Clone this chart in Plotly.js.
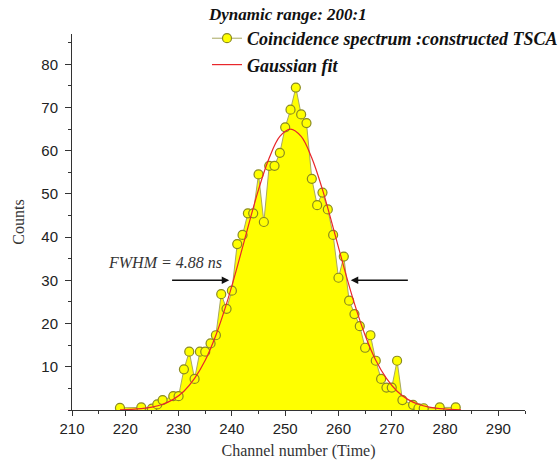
<!DOCTYPE html>
<html>
<head>
<meta charset="utf-8">
<script src="https://cdn.plot.ly/plotly-3.0.1.min.js"></script>
<style>html,body{margin:0;padding:0;background:#fff;}#chart{width:558px;height:468px;}</style>
</head>
<body>
<div id="chart"></div>
<script>
// Measured spectrum (channel, counts)
const channels = [219,223,225,226,227,229,230,231,232,233,234,235,236,237,238,239,240,241,242,243,244,245,246,247,248,249,250,251,252,253,254,255,256,257,258,259,260,261,262,263,264,265,266,267,268,269,270,271,272,274,275,276,279,282];
const counts = [0.5,0.6,0.3,1.3,2.3,3.2,3.2,9.4,13.5,7.2,13.5,13.5,15.4,17.3,26.8,23.4,27.6,38.4,40.5,45.5,45.5,54.5,43.5,56.5,56.5,59.5,65.4,69.5,74.6,68.4,66.4,53.5,47.4,50.3,46.4,40.5,30.6,35.5,25.3,22.2,19.4,14.4,17.3,11.4,7.2,5.2,5.2,11.4,2.3,1.2,0.4,0.4,0.6,0.6];

// Gaussian fit curve
const fitChannels = [219,221,223,225,227,229,231,233,235,237,239,241,243,245,247,249,251,253,255,257,259,261,263,265,267,269,271,273,275,277,279,281,283];
const fitCounts = [0.06,0.15,0.32,0.67,1.32,2.46,4.35,7.3,11.5,17.3,24.6,33.1,42.2,51.0,58.3,63.3,65.0,63.3,58.3,51.0,42.2,33.1,24.6,17.3,11.5,7.3,4.35,2.46,1.32,0.67,0.32,0.15,0.06];

// Annotation values
const fwhmLabel = "FWHM = 4.88 ns";
const fwhmLevel = 30;
const fwhmLeft = 239.5, fwhmRight = 262.3, arrowLen = 11;
const legendTitle = "Dynamic range: 200:1";
const seriesNames = ["Coincidence spectrum :constructed TSCA", "Gaussian fit"];
const xTitle = "Channel number (Time)";
const yTitle = "Counts";

const serif = "Liberation Serif, Times New Roman, serif";
const sans = "Liberation Sans, Arial, sans-serif";

const traces = [
  {x: channels, y: counts, type: 'scatter', mode: 'lines', fill: 'tozeroy',
   fillcolor: '#ffff00', line: {width: 0, color: '#ffff00'}, showlegend: false, hoverinfo: 'skip'},
  {x: channels, y: counts, type: 'scatter', mode: 'lines+markers', name: seriesNames[0],
   line: {color: '#a8a860', width: 1},
   marker: {symbol: 'circle', size: 9, color: '#ffff00', line: {color: '#8a8a20', width: 1.2}}},
  {x: fitChannels, y: fitCounts, type: 'scatter', mode: 'lines', name: seriesNames[1],
   line: {color: '#e8262b', width: 1.2, shape: 'spline'}}
];

const layout = {
  width: 558, height: 468,
  margin: {l: 72, r: 33, t: 34, b: 58, autoexpand: false},
  paper_bgcolor: '#fff', plot_bgcolor: '#fff',
  showlegend: true,
  legend: {
    x: 0.298, y: 1.096, xanchor: 'left', yanchor: 'top',
    bgcolor: 'rgba(0,0,0,0)', borderwidth: 0,
    tracegroupgap: 0, itemwidth: 30,
    title: {text: legendTitle, side: 'top', font: {family: serif, size: 17, color: '#111', weight: 'bold', style: 'italic'}},
    font: {family: serif, size: 18, color: '#111', weight: 'bold', style: 'italic'}
  },
  xaxis: {
    range: [210, 295], dtick: 10, tick0: 210,
    showgrid: false, zeroline: false, showline: true, linecolor: '#333', linewidth: 1,
    ticks: 'outside', ticklen: 5, tickcolor: '#333',
    minor: {dtick: 5, ticks: 'outside', ticklen: 3, tickcolor: '#333', showgrid: false},
    tickfont: {family: sans, size: 15, color: '#222'},
    title: {text: xTitle, font: {family: serif, size: 16, color: '#333'}, standoff: 8}
  },
  yaxis: {
    range: [0, 87], dtick: 10, tick0: 0,
    showgrid: false, zeroline: false, showline: true, linecolor: '#333', linewidth: 1,
    ticks: 'outside', ticklen: 6, tickcolor: '#333', ticklabelstandoff: 4,
    minor: {dtick: 5, ticks: 'outside', ticklen: 3, tickcolor: '#333', showgrid: false},
    tickfont: {family: sans, size: 15, color: '#222'},
    tickvals: [10,20,30,40,50,60,70,80],
    title: {text: yTitle, font: {family: serif, size: 16, color: '#333'}, standoff: 12}
  },
  annotations: [
    {xref: 'x', yref: 'y', x: 227.5, y: 34.2, text: fwhmLabel, showarrow: false,
     font: {family: serif, size: 16, color: '#333', style: 'italic'}},
    {xref: 'x', yref: 'y', axref: 'x', ayref: 'y', x: fwhmLeft, y: fwhmLevel,
     ax: fwhmLeft - arrowLen, ay: fwhmLevel, text: '', showarrow: true,
     arrowhead: 2, arrowsize: 1, arrowwidth: 1.5, arrowcolor: '#111'},
    {xref: 'x', yref: 'y', axref: 'x', ayref: 'y', x: fwhmRight, y: fwhmLevel,
     ax: fwhmRight + arrowLen, ay: fwhmLevel, text: '', showarrow: true,
     arrowhead: 2, arrowsize: 1, arrowwidth: 1.5, arrowcolor: '#111'}
  ]
};

Plotly.newPlot('chart', traces, layout, {displayModeBar: false, staticPlot: true});
</script>
</body>
</html>
